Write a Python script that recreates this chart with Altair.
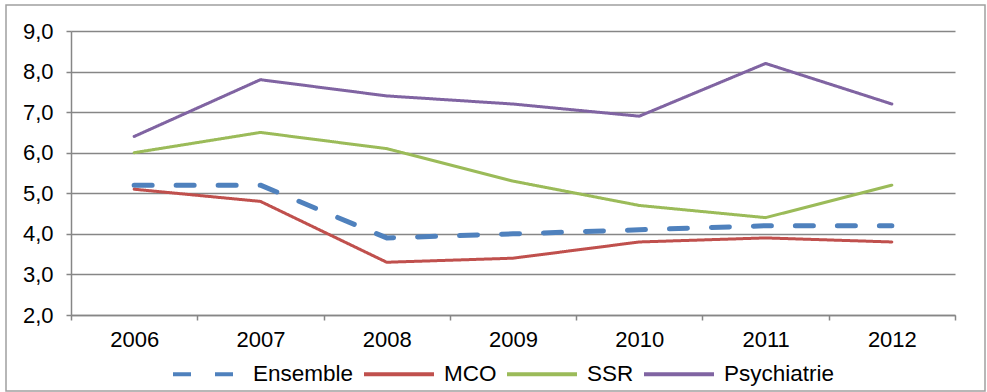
import altair as alt
import pandas as pd

# Annual values per sector
years = ["2006", "2007", "2008", "2009", "2010", "2011", "2012"]
ensemble = [5.2, 5.2, 3.9, 4.0, 4.1, 4.2, 4.2]
mco = [5.1, 4.8, 3.3, 3.4, 3.8, 3.9, 3.8]
ssr = [6.0, 6.5, 6.1, 5.3, 4.7, 4.4, 5.2]
psychiatrie = [6.4, 7.8, 7.4, 7.2, 6.9, 8.2, 7.2]

series_names = ["Ensemble", "MCO", "SSR", "Psychiatrie"]
series_colors = ["#4F81BD", "#C0504D", "#9BBB59", "#8064A2"]
series_dash = [[18, 24], [1, 0], [1, 0], [1, 0]]
y_ticks = [2, 3, 4, 5, 6, 7, 8, 9]

rows = []
for name, values in zip(series_names, [ensemble, mco, ssr, psychiatrie]):
    for yr, v in zip(years, values):
        rows.append({"annee": yr, "valeur": v, "serie": name})
df = pd.DataFrame(rows)

FONT = "Liberation Sans"
FS = 22
LFS = 22.5
W, H = 884, 284

legend_opts = dict(
    title=None,
    orient="none",
    direction="horizontal",
    legendX=100,
    legendY=306,
    symbolType="stroke",
    symbolSize=4900,
    symbolStrokeWidth=4,
    labelOffset=8,
    columnPadding=2,
    labelFontSize=LFS,
    labelFont=FONT,
    labelColor="#000000",
)

lines = alt.Chart(df).mark_line(strokeCap="round", strokeJoin="round").encode(
    x=alt.X(
        "annee:O",
        bandPosition=0.5,
        scale=alt.Scale(type="band", domain=years, paddingInner=0, paddingOuter=0),
        axis=alt.Axis(
            title=None,
            tickBand="extent",
            grid=False,
            labelAngle=0,
            labelPadding=9,
            tickSize=5,
        ),
    ),
    y=alt.Y(
        "valeur:Q",
        scale=alt.Scale(domain=[2, 9], nice=False, zero=False),
        axis=alt.Axis(
            title=None,
            values=y_ticks,
            labelExpr="replace(format(datum.value, '.1f'), '.', ',')",
            tickSize=5,
            labelPadding=13,
            grid=True,
        ),
    ),
    color=alt.Color(
        "serie:N",
        scale=alt.Scale(domain=series_names, range=series_colors),
        legend=alt.Legend(**legend_opts),
    ),
    strokeDash=alt.StrokeDash(
        "serie:N",
        scale=alt.Scale(domain=series_names, range=series_dash),
        legend=alt.Legend(**legend_opts),
    ),
    strokeWidth=alt.condition(alt.datum.serie == "Ensemble", alt.value(5), alt.value(3)),
    order=alt.Order("annee:O"),
)

# Outer frame around the whole figure
frame = alt.Chart(pd.DataFrame({"f": [0]})).mark_rect(
    fill=None, stroke="#A0A0A0", strokeWidth=1.5
).encode(
    x=alt.value(-65),
    x2=alt.value(W + 30),
    y=alt.value(-26),
    y2=alt.value(H + 76),
)

chart = alt.layer(frame, lines).properties(
    width=W,
    height=H,
    padding={"left": 71, "top": 31, "right": 32, "bottom": 77},
    autosize=alt.AutoSizeParams(type="none"),
    background="#FFFFFF",
).configure_view(stroke=None).configure_axis(
    labelFont=FONT,
    labelFontSize=FS,
    labelColor="#000000",
    domainColor="#868686",
    domainWidth=1.5,
    tickColor="#868686",
    tickWidth=1.5,
    gridColor="#868686",
    gridWidth=1.3,
)

chart.save("out.html", embed_options={"renderer": "svg", "actions": False})
